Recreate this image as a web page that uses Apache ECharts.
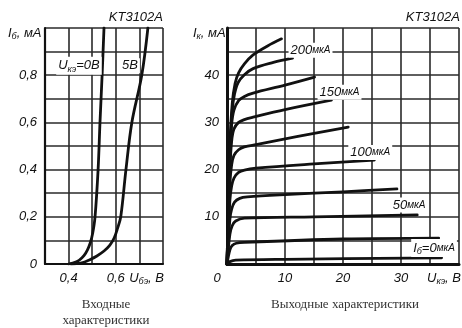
<!DOCTYPE html>
<html>
<head>
<meta charset="utf-8">
<script src="https://cdn.jsdelivr.net/npm/echarts@6/dist/echarts.min.js"></script>
<style>
  html, body { margin: 0; padding: 0; background: #fff; }
  #chart { width: 462px; height: 328px; }
</style>
</head>
<body>
<div id="chart"></div>
<script>
// ---- input characteristics: Iб (mA) vs Uбэ (V)
var inputUce0 = [[0.40,0],[0.43,0.008],[0.446,0.017],[0.465,0.035],[0.48,0.06],[0.492,0.09],[0.502,0.13],[0.512,0.2],[0.525,0.4],[0.533,0.6],[0.542,0.8],[0.55,1.0]];
var inputUce5 = [[0.41,0],[0.46,0.006],[0.49,0.018],[0.52,0.034],[0.55,0.055],[0.575,0.08],[0.593,0.11],[0.607,0.15],[0.621,0.2],[0.643,0.4],[0.668,0.6],[0.71,0.8],[0.736,1.0]];
var inputXTicks = [0.4, 0.6];
var inputYTicks = [0, 0.2, 0.4, 0.6, 0.8];

// ---- output characteristics: Iк (mA) vs Uкэ (V), one curve per base current
var out225 = [[0,0],[0.5,25],[0.9,34],[1.4,38.3],[2,40.5],[3,42.4],[4.5,44.3],[7,46.2],[9.4,47.7]];
var out200 = [[0,0],[0.5,24],[0.9,32.5],[1.3,36],[1.9,38.4],[3,40.1],[4.5,41.4],[8,42.7],[11.3,43.6]];
var out175 = [[0,0],[0.5,22],[0.8,29.5],[1.2,32.6],[2,34.6],[3,35.5],[4.5,36.2],[10,37.9],[15.1,39.6]];
var out150 = [[0,0],[0.5,20],[0.8,26],[1.2,28.6],[2,30],[3,30.6],[4.5,31.1],[10,32.7],[18,34.7]];
var out125 = [[0,0],[0.5,17],[0.8,21],[1.2,23],[2,24.2],[3,24.8],[5,25.3],[12,27],[20.9,29]];
var out100 = [[0,0],[0.5,13.5],[0.8,16.5],[1.2,18.2],[2,19.4],[3,19.9],[5,20.3],[15,21.2],[25.4,22]];
var out75  = [[0,0],[0.5,9.5],[0.8,11.6],[1.3,13.1],[2.2,13.9],[3.5,14.2],[10,14.7],[20,15.3],[29.3,15.9]];
var out50  = [[0,0],[0.5,6.3],[0.9,8.1],[1.5,9.1],[3,9.7],[15,10],[32.8,10.4]];
var out25  = [[0,0],[0.5,3],[0.9,3.9],[1.6,4.4],[3,4.6],[20,5.3],[36.5,5.5]];
var out0   = [[0,0],[0.5,0.5],[1.5,0.8],[10,1],[37,1.3]];
var outputXTicks = [10, 20, 30];
var outputYTicks = [10, 20, 30, 40];

// curve captions [rich text, U, I]
var inputCaptions = [
  ['{b|U}{s|кэ}{b|=0В}', 0.444, 0.84],
  ['{b|5В}', 0.66, 0.84]
];
var outputCaptions = [
  ['{b|200}{u|мкА}', 14.4, 45.3],
  ['{b|150}{u|мкА}', 19.4, 36.4],
  ['{b|100}{u|мкА}', 24.7, 23.6],
  ['{b|50}{u|мкА}', 31.4, 12.5],
  ['{b|I}{s|б}{b|=0}{u|мкА}', 35.7, 3.4]
];

var FONT = '"Liberation Sans", Arial, sans-serif';
var SERIF = '"Liberation Serif", "Times New Roman", serif';
var INK = '#111';
var GRID = '#2a2a2a';

var rich = {
  b: { fontFamily: FONT, fontStyle: 'italic', fontSize: 13, color: INK },
  s: { fontFamily: FONT, fontStyle: 'italic', fontSize: 9, color: INK, padding: [7, 0, 0, 0] },
  u: { fontFamily: FONT, fontStyle: 'italic', fontSize: 10, color: INK }
};

function tickFmt(list, dec) {
  return function (v) {
    for (var i = 0; i < list.length; i++) {
      if (Math.abs(list[i] - v) < 1e-6) {
        if (Math.abs(v) < 1e-9) return '0';
        return v.toFixed(dec).replace('.', ',');
      }
    }
    return '';
  };
}

function axisX(idx, min, max, interval, ticks, dec, lw) {
  return {
    type: 'value', gridIndex: idx, min: min, max: max, interval: interval,
    axisLine: { onZero: false, lineStyle: { color: INK, width: lw } },
    axisTick: { show: false },
    splitLine: { show: true, lineStyle: { color: GRID, width: 1.6 } },
    axisLabel: { formatter: tickFmt(ticks, dec), margin: 8, color: INK, fontFamily: FONT, fontStyle: 'italic', fontSize: 13, showMinLabel: true, showMaxLabel: true }
  };
}
function axisY(idx, min, max, interval, ticks, dec, lw) {
  return {
    type: 'value', gridIndex: idx, min: min, max: max, interval: interval,
    axisLine: { show: true, onZero: false, lineStyle: { color: INK, width: lw } },
    axisTick: { show: false },
    splitLine: { show: true, lineStyle: { color: GRID, width: 1.6 } },
    axisLabel: { formatter: tickFmt(ticks, dec), margin: 8, color: INK, fontFamily: FONT, fontStyle: 'italic', fontSize: 13, showMinLabel: true, showMaxLabel: true }
  };
}

function curve(data, gi) {
  return {
    type: 'line', xAxisIndex: gi, yAxisIndex: gi, data: data,
    showSymbol: false, smooth: 0.35, silent: true,
    lineStyle: { color: INK, width: 2.8, cap: 'round', join: 'round' }, z: 3
  };
}

var outputCurves = [out225, out200, out175, out150, out125, out100, out75, out50, out25, out0];

var chart = echarts.init(document.getElementById('chart'));
chart.setOption({
  animation: false,
  backgroundColor: '#fff',
  grid: [
    { left: 45, top: 28, width: 118, height: 236 },
    { left: 227, top: 28, width: 233, height: 236 }
  ],
  xAxis: [
    axisX(0, 0.3, 0.8, 0.1, inputXTicks, 1, 2.2),
    axisX(1, 0, 40, 5, outputXTicks, 0, 3)
  ],
  yAxis: [
    axisY(0, 0, 1, 0.1, inputYTicks, 1, 2.2),
    axisY(1, 0, 50, 5, outputYTicks, 0, 3)
  ],
  series: [curve(inputUce0, 0), curve(inputUce5, 0)].concat(outputCurves.map(function (c) { return curve(c, 1); }))
});

function txt(x, y, text, align, extra) {
  var st = { text: text, rich: rich, align: align || 'left', verticalAlign: 'middle', fill: INK,
             fontFamily: FONT, fontStyle: 'italic', fontSize: 13 };
  for (var k in extra || {}) st[k] = extra[k];
  return { type: 'text', x: x, y: y, z: 10, style: st };
}

var graphics = [
  // axis names
  txt(8, 33, '{b|I}{s|б}{b|, мА}', 'left'),
  txt(193, 33, '{b|I}{s|к}{b|, мА}', 'left'),
  txt(164, 278, '{b|U}{s|бэ}{b|, В}', 'right'),
  txt(461, 278, '{b|U}{s|кэ}{b|, В}', 'right'),
  txt(217, 278, '{b|0}', 'center'),
  // part titles
  txt(163, 17, 'KT3102A', 'right'),
  txt(460, 17, 'KT3102A', 'right'),
  // captions
  { type: 'text', x: 106, y: 305, style: { text: 'Входные', align: 'center', verticalAlign: 'middle', fill: '#333', font: '13px ' + SERIF } },
  { type: 'text', x: 106, y: 321, style: { text: 'характеристики', align: 'center', verticalAlign: 'middle', fill: '#333', font: '13px ' + SERIF } },
  { type: 'text', x: 345, y: 305, style: { text: 'Выходные характеристики', align: 'center', verticalAlign: 'middle', fill: '#333', font: '13px ' + SERIF } }
];

inputCaptions.forEach(function (c) {
  var p = chart.convertToPixel({ gridIndex: 0 }, [c[1], c[2]]);
  graphics.push(txt(p[0], p[1], c[0], 'center', { backgroundColor: '#fff', padding: [1, 2, 1, 2] }));
});
outputCaptions.forEach(function (c) {
  var p = chart.convertToPixel({ gridIndex: 1 }, [c[1], c[2]]);
  graphics.push(txt(p[0], p[1], c[0], 'center', { backgroundColor: '#fff', padding: [1, 2, 1, 2] }));
});

chart.setOption({ graphic: graphics });
</script>
</body>
</html>
